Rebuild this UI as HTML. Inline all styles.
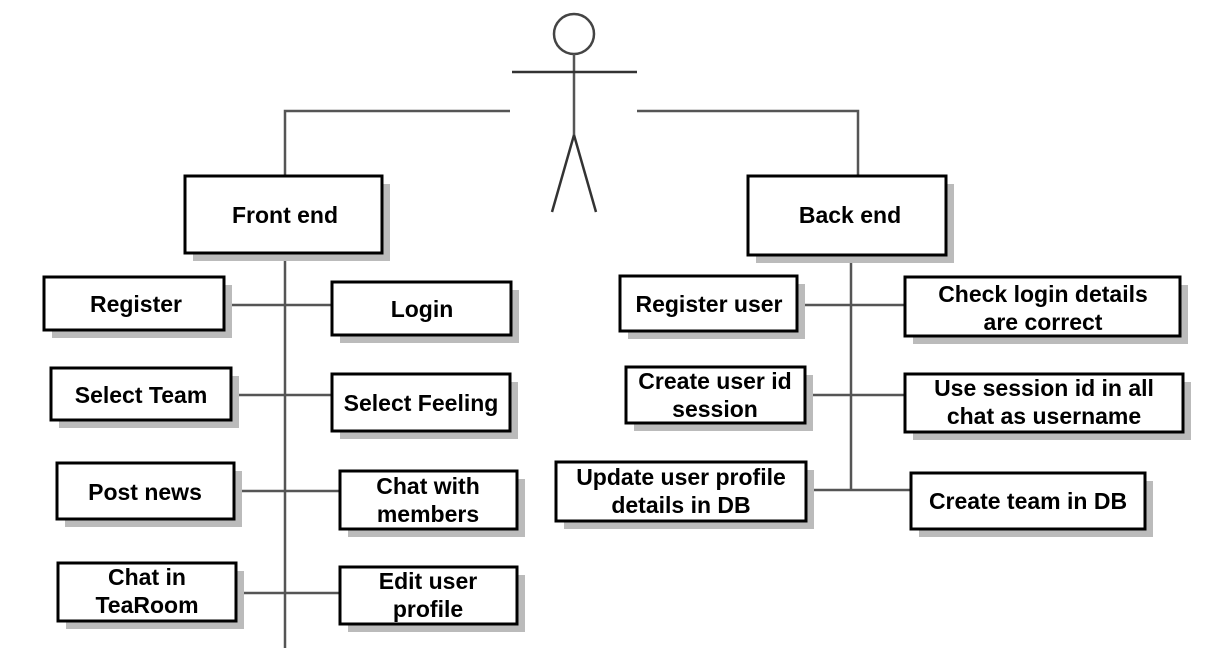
<!DOCTYPE html>
<html><head><style>body{margin:0;background:#fff}svg{display:block}text{font-family:"Liberation Sans Narrow","Liberation Sans",sans-serif;font-weight:bold;font-size:23px;fill:#000;text-anchor:middle}</style></head>
<body>
<svg width="1222" height="658" viewBox="0 0 1222 658">
<g stroke="#555" stroke-width="2.5" fill="none">
<circle cx="574" cy="34" r="20" stroke="#444"/>
<line x1="574" y1="54" x2="574" y2="135"/>
<line x1="512" y1="72" x2="637" y2="72" stroke="#333"/>
<line x1="574" y1="135" x2="552" y2="212" stroke="#333"/>
<line x1="574" y1="135" x2="596" y2="212" stroke="#333"/>
<polyline points="510,111 285,111 285,176"/>
<polyline points="637,111 858,111 858,176"/>
<line x1="285" y1="253" x2="285" y2="648"/>
<line x1="851" y1="255" x2="851" y2="490"/>
<line x1="224" y1="305" x2="332" y2="305"/>
<line x1="231" y1="395" x2="332" y2="395"/>
<line x1="234" y1="491" x2="340" y2="491"/>
<line x1="236" y1="593" x2="340" y2="593"/>
<line x1="797" y1="305" x2="905" y2="305"/>
<line x1="805" y1="395" x2="905" y2="395"/>
<line x1="806" y1="490" x2="911" y2="490"/>
</g>
<g fill="#bbb">
<rect x="193" y="184" width="197" height="77"/><rect x="756" y="184" width="198" height="79"/>
<rect x="52" y="285" width="180" height="53"/><rect x="340" y="290" width="179" height="53"/>
<rect x="59" y="376" width="180" height="52"/><rect x="340" y="382" width="178" height="57"/>
<rect x="65" y="471" width="177" height="56"/><rect x="348" y="479" width="177" height="58"/>
<rect x="66" y="571" width="178" height="58"/><rect x="348" y="575" width="177" height="57"/>
<rect x="628" y="284" width="177" height="55"/><rect x="913" y="285" width="275" height="59"/>
<rect x="634" y="375" width="179" height="56"/><rect x="913" y="382" width="278" height="58"/>
<rect x="564" y="470" width="250" height="59"/><rect x="919" y="481" width="234" height="56"/>
</g>
<g fill="#fff" stroke="#000" stroke-width="3">
<rect x="185" y="176" width="197" height="77"/><rect x="748" y="176" width="198" height="79"/>
<rect x="44" y="277" width="180" height="53"/><rect x="332" y="282" width="179" height="53"/>
<rect x="51" y="368" width="180" height="52"/><rect x="332" y="374" width="178" height="57"/>
<rect x="57" y="463" width="177" height="56"/><rect x="340" y="471" width="177" height="58"/>
<rect x="58" y="563" width="178" height="58"/><rect x="340" y="567" width="177" height="57"/>
<rect x="620" y="276" width="177" height="55"/><rect x="905" y="277" width="275" height="59"/>
<rect x="626" y="367" width="179" height="56"/><rect x="905" y="374" width="278" height="58"/>
<rect x="556" y="462" width="250" height="59"/><rect x="911" y="473" width="234" height="56"/>
</g>
<text x="285" y="223">Front end</text>
<text x="850" y="223">Back end</text>
<text x="136" y="312">Register</text>
<text x="422" y="317">Login</text>
<text x="141" y="403">Select Team</text>
<text x="421" y="411">Select Feeling</text>
<text x="145" y="500">Post news</text>
<text x="428" y="494">Chat with</text>
<text x="428" y="522">members</text>
<text x="147" y="585">Chat in</text>
<text x="147" y="613">TeaRoom</text>
<text x="428" y="589">Edit user</text>
<text x="428" y="617">profile</text>
<text x="709" y="312">Register user</text>
<text x="1043" y="302">Check login details</text>
<text x="1043" y="330">are correct</text>
<text x="715" y="389">Create user id</text>
<text x="715" y="417">session</text>
<text x="1044" y="396">Use session id in all</text>
<text x="1044" y="424">chat as username</text>
<text x="681" y="485">Update user profile</text>
<text x="681" y="513">details in DB</text>
<text x="1028" y="509">Create team in DB</text>
</svg>
</body></html>
